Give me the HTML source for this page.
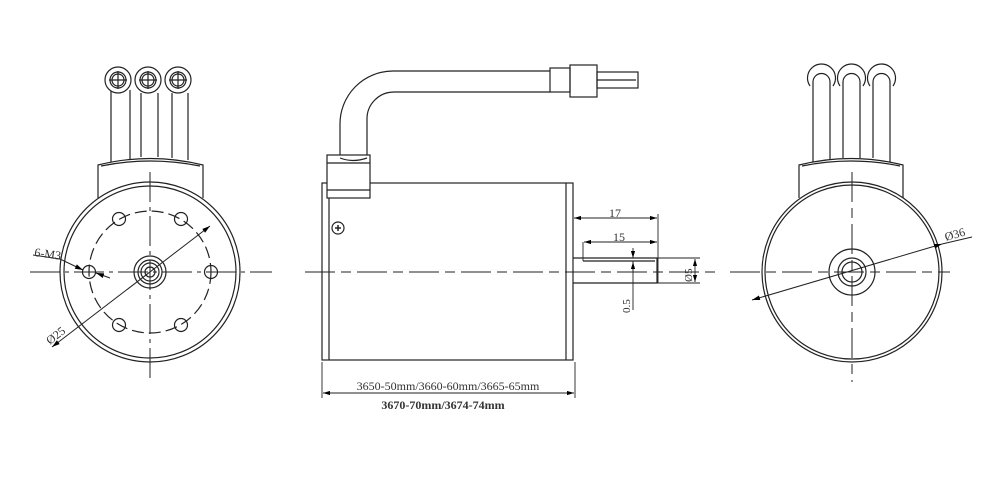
<!DOCTYPE html>
<html><head><style>
html,body{margin:0;padding:0;background:#fff;}
svg{display:block;}
text{font-family:"Liberation Serif",serif;fill:#333;}
</style></head><body>
<svg width="1000" height="480" viewBox="0 0 1000 480" xmlns="http://www.w3.org/2000/svg">
<defs>
<marker id="a" viewBox="0 0 10 6" refX="10" refY="3" markerWidth="8" markerHeight="5" orient="auto-start-reverse"><path d="M0,0L10,3L0,6z" fill="#000"/></marker>
</defs>
<g fill="none" stroke="#222" stroke-width="1.2">
<!-- LEFT VIEW -->
<g>
<line x1="111" y1="90" x2="111" y2="162"/><line x1="130" y1="90" x2="130" y2="160"/>
<line x1="141" y1="93" x2="141" y2="157"/><line x1="158" y1="93" x2="158" y2="157"/>
<line x1="172" y1="93" x2="172" y2="158"/><line x1="188" y1="93" x2="188" y2="160"/>
<g fill="#fff">
<circle cx="118" cy="80" r="13"/><circle cx="148" cy="80" r="13"/><circle cx="178" cy="80" r="13"/>
</g>
<circle cx="118" cy="80" r="8"/><circle cx="148" cy="80" r="8"/><circle cx="178" cy="80" r="8"/>
<circle cx="118" cy="80" r="6"/><circle cx="148" cy="80" r="6"/><circle cx="178" cy="80" r="6"/>
<path d="M109,80h18M118,71v18M139,80h18M148,71v18M169,80h18M178,71v18"/>
<path d="M98,198V165Q150,152 203,165V198"/>
<path d="M101,166Q150,156 200,166"/>
<circle cx="150" cy="272" r="90" fill="#fff"/>
<circle cx="150" cy="272" r="86"/>
<circle cx="150" cy="272" r="61" stroke-dasharray="12,5"/>
<circle cx="89" cy="272" r="6.5"/><circle cx="211" cy="272" r="6.5"/>
<circle cx="119" cy="219" r="6.5"/><circle cx="181" cy="219" r="6.5"/>
<circle cx="119" cy="325" r="6.5"/><circle cx="181" cy="325" r="6.5"/>
<circle cx="150" cy="272" r="16"/><circle cx="150" cy="272" r="12"/><circle cx="150" cy="272" r="9"/><circle cx="150" cy="272" r="5"/>
<line x1="30" y1="272" x2="272" y2="272" stroke-dasharray="30,5,4,5" stroke-width="1"/>
<line x1="150" y1="172" x2="150" y2="382" stroke-dasharray="30,5,4,5" stroke-width="1"/>
<line x1="52" y1="347" x2="210" y2="226" stroke-width="1" marker-start="url(#a)" marker-end="url(#a)"/>
<path d="M33,255L60,259L83,270" stroke-width="1" marker-end="url(#a)"/>
<line x1="110" y1="278" x2="96" y2="273" stroke-width="1" marker-end="url(#a)"/>
</g>
<!-- MIDDLE VIEW -->
<g>
<path d="M340,155V125A53,53 0 0 1 393,71H550"/>
<path d="M367,155V120A27,27 0 0 1 394,92H550"/>
<rect x="550" y="68" width="20" height="24"/>
<rect x="570" y="65" width="27" height="32"/>
<rect x="597" y="72" width="41" height="16"/>
<line x1="597" y1="80" x2="636" y2="80"/>
<rect x="322" y="183" width="251" height="177" fill="#fff"/>
<line x1="329" y1="183" x2="329" y2="360"/><line x1="566" y1="183" x2="566" y2="360"/>
<rect x="327" y="155" width="43" height="43" fill="#fff"/>
<line x1="327" y1="163" x2="370" y2="163"/><line x1="327" y1="190" x2="370" y2="190"/>
<path d="M340,158Q353,163 367,158"/>
<circle cx="338" cy="228" r="6"/>
<path d="M335,228h6M338,225v6" stroke-width="1.5"/>
<path d="M573,258H657V283H573"/>
<line x1="583" y1="261" x2="655" y2="261"/>
<line x1="305" y1="272" x2="720" y2="272" stroke-dasharray="30,6,10,6" stroke-width="1"/>
<!-- dims -->
<g stroke-width="0.9">
<line x1="574" y1="218" x2="657" y2="218" marker-start="url(#a)" marker-end="url(#a)"/>
<line x1="658" y1="214" x2="658" y2="283"/>
<line x1="573" y1="214" x2="573" y2="258"/>
<line x1="584" y1="242" x2="657" y2="242" marker-start="url(#a)" marker-end="url(#a)"/>
<line x1="583" y1="242" x2="583" y2="261"/>
<line x1="633" y1="248" x2="633" y2="258" marker-end="url(#a)"/>
<line x1="633" y1="261" x2="633" y2="310"/>
<line x1="633" y1="271" x2="633" y2="262" marker-end="url(#a)"/>
<line x1="655" y1="258" x2="700" y2="258"/><line x1="655" y1="283" x2="700" y2="283"/>
<line x1="695" y1="259" x2="695" y2="282" marker-start="url(#a)" marker-end="url(#a)"/>
<line x1="322" y1="362" x2="322" y2="398"/><line x1="575" y1="362" x2="575" y2="398"/>
<line x1="323" y1="393" x2="574" y2="393" marker-start="url(#a)" marker-end="url(#a)"/>
</g>
</g>
<!-- RIGHT VIEW -->
<g>
<path d="M813,162V82A8,8 0 0 1 830,82V160"/>
<path d="M843,158V82A8,8 0 0 1 860,82V158"/>
<path d="M873,158V82A8,8 0 0 1 890,82V162"/>
<path d="M810,86A14,14 0 1 1 833,86"/><path d="M840,86A14,14 0 1 1 863,86"/><path d="M870,86A14,14 0 1 1 893,86"/>
<path d="M799,198V165Q851,152 903,165V198"/>
<path d="M802,166Q851,156 900,166"/>
<circle cx="852" cy="272" r="90" fill="#fff"/>
<circle cx="852" cy="272" r="87"/>
<circle cx="852" cy="272" r="23"/><circle cx="852" cy="272" r="14"/><circle cx="852" cy="272" r="10"/>
<line x1="730" y1="272" x2="950" y2="272" stroke-dasharray="30,6,10,6" stroke-width="1"/>
<line x1="852" y1="172" x2="852" y2="382" stroke-dasharray="30,6,10,6" stroke-width="1"/>
<line x1="752" y1="300" x2="942" y2="244" stroke-width="1" marker-start="url(#a)" marker-end="url(#a)"/>
<line x1="942" y1="244" x2="972" y2="237" stroke-width="1"/>
</g>
</g>
<!-- TEXT -->
<text x="34" y="256" font-size="12" transform="rotate(8 34 256)">6-M3</text>
<text x="50" y="345" font-size="12" transform="rotate(-38 50 345)">Ø25</text>
<text x="609" y="217" font-size="12">17</text>
<text x="613" y="241" font-size="12">15</text>
<text x="0" y="0" font-size="11" transform="translate(630,313) rotate(-90)">0.5</text>
<text x="0" y="0" font-size="11" transform="translate(692,282) rotate(-90)">Ø5</text>
<text x="946" y="241" font-size="12" transform="rotate(-16 946 241)">Ø36</text>
<text x="448" y="390" font-size="12" text-anchor="middle" fill="#555">3650-50mm/3660-60mm/3665-65mm</text>
<text x="443" y="409" font-size="12" text-anchor="middle" font-weight="bold" fill="#111">3670-70mm/3674-74mm</text>
</svg>
</body></html>
